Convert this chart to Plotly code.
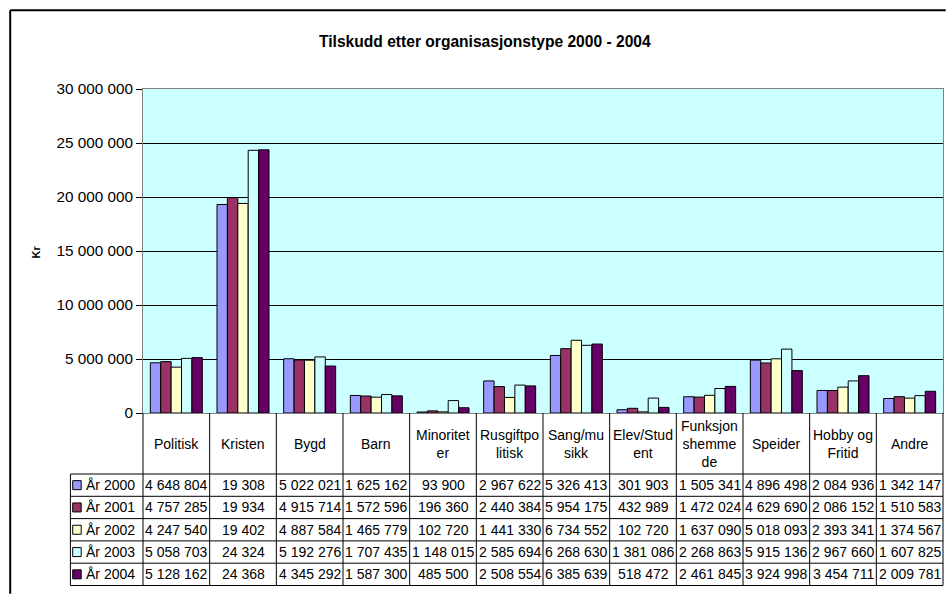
import plotly.graph_objects as go

# Tilskudd per organisasjonstype, kr
categories = ['Politisk', 'Kristen', 'Bygd', 'Barn', 'Minoritet<br>er', 'Rusgiftpo<br>litisk',
              'Sang/mu<br>sikk', 'Elev/Stud<br>ent', 'Funksjon<br>shemme<br>de', 'Speider',
              'Hobby og<br>Fritid', 'Andre']
years = ['År 2000', 'År 2001', 'År 2002', 'År 2003', 'År 2004']
y2000 = [4648804, 19308000, 5022021, 1625162, 93900, 2967622, 5326413, 301903, 1505341, 4896498, 2084936, 1342147]
y2001 = [4757285, 19934000, 4915714, 1572596, 196360, 2440384, 5954175, 432989, 1472024, 4629690, 2086152, 1510583]
y2002 = [4247540, 19402000, 4887584, 1465779, 102720, 1441330, 6734552, 102720, 1637090, 5018093, 2393341, 1374567]
y2003 = [5058703, 24324000, 5192276, 1707435, 1148015, 2585694, 6268630, 1381086, 2268863, 5915136, 2967660, 1607825]
y2004 = [5128162, 24368000, 4345292, 1587300, 485500, 2508554, 6385639, 518472, 2461845, 3924998, 3454711, 2009781]
series = [y2000, y2001, y2002, y2003, y2004]
colors = ['#9999FF', '#993366', '#FFFFCC', '#CCFFFF', '#660066']

W, H = 946, 594
L, R, T, B = 143.3, 943.3, 89.3, 413.3

def px(x):
    return (x - L) / (R - L)

def py(y):
    return (B - y) / (B - T)

def fmt(v, cat):
    # table shows Kristen in thousands
    if cat == 'Kristen':
        v = v // 1000
    return f'{v:,}'.replace(',', ' ')

fig = go.Figure()
for name, vals, col in zip(years, series, colors):
    fig.add_trace(go.Bar(x=list(range(len(categories))), y=vals, name=name,
                         marker=dict(color=col, line=dict(color='black', width=1))))

font = 'Arial, Liberation Sans, sans-serif'
shapes = []
annotations = []

# outer chart frame
shapes.append(dict(type='line', xref='paper', yref='paper', x0=px(10.5), x1=px(W), y0=py(10.5), y1=py(10.5),
                   line=dict(color='black', width=2)))
shapes.append(dict(type='line', xref='paper', yref='paper', x0=px(10.5), x1=px(10.5), y0=py(10.5), y1=py(H),
                   line=dict(color='black', width=2)))

# data table grid
slot = (R - L) / len(categories)
row_top = 474.3
row_h = 22.3
for i in range(len(categories) + 1):
    x = L + i * slot
    shapes.append(dict(type='line', xref='paper', yref='paper', x0=px(x), x1=px(x), y0=py(B), y1=py(row_top + 5 * row_h),
                       line=dict(color='black', width=1)))
for j in range(6):
    y = row_top + j * row_h
    shapes.append(dict(type='line', xref='paper', yref='paper', x0=px(70.7), x1=px(R), y0=py(y), y1=py(y),
                       line=dict(color='black', width=1)))
shapes.append(dict(type='line', xref='paper', yref='paper', x0=px(70.7), x1=px(70.7), y0=py(row_top), y1=py(row_top + 5 * row_h),
                   line=dict(color='black', width=1)))

for i, cat in enumerate(categories):
    cx = L + (i + 0.5) * slot
    annotations.append(dict(xref='paper', yref='paper', x=px(cx), y=py((B + row_top) / 2), text=cat, showarrow=False,
                            xanchor='center', yanchor='middle', font=dict(family=font, size=14, color='black')))

for j, (name, vals, col) in enumerate(zip(years, series, colors)):
    cy = row_top + (j + 0.5) * row_h
    shapes.append(dict(type='rect', xref='paper', yref='paper', x0=px(73), x1=px(81.5), y0=py(cy - 4.5), y1=py(cy + 4.5),
                       fillcolor=col, line=dict(color='black', width=1)))
    annotations.append(dict(xref='paper', yref='paper', x=px(84), y=py(cy), text=name, showarrow=False,
                            xanchor='left', yanchor='middle', font=dict(family=font, size=14, color='black')))
    for i, cat in enumerate(categories):
        cx = L + (i + 0.5) * slot
        annotations.append(dict(xref='paper', yref='paper', x=px(cx), y=py(cy), text=fmt(vals[i], cat), showarrow=False,
                                xanchor='center', yanchor='middle', font=dict(family=font, size=14, color='black')))

# title and axis label
annotations.append(dict(xref='paper', yref='paper', x=px(485), y=py(42), text='<b>Tilskudd etter organisasjonstype 2000 - 2004</b>',
                        showarrow=False, xanchor='center', yanchor='middle', font=dict(family=font, size=15.6, color='black')))
annotations.append(dict(xref='paper', yref='paper', x=px(36), y=py(252), text='<b>Kr</b>', textangle=-90,
                        showarrow=False, xanchor='center', yanchor='middle', font=dict(family=font, size=11, color='black')))

fig.update_layout(
    width=W, height=H,
    margin=dict(l=L, r=W - R, t=T, b=H - B, pad=0),
    paper_bgcolor='white',
    plot_bgcolor='#CCFFFF',
    barmode='group',
    bargap=0.22,
    bargroupgap=0,
    showlegend=False,
    separators=', ',
    font=dict(family=font, color='black'),
    shapes=shapes,
    annotations=annotations,
    xaxis=dict(range=[-0.5, len(categories) - 0.5], showticklabels=False, ticks='', showgrid=False,
               zeroline=False, showline=True, linecolor='#808080', linewidth=1, mirror=True),
    yaxis=dict(range=[0, 30000000], dtick=5000000, tickformat=',d', showgrid=True, gridcolor='black', gridwidth=1,
               zeroline=False, showline=True, linecolor='#808080', linewidth=1, mirror=True,
               ticks='outside', ticklen=6, tickcolor='black', tickfont=dict(family=font, size=15.3, color='black')),
)

# page margin off so the 946x594 figure fits the window exactly
fig.write_html("out.html", config={'displayModeBar': False},
               post_script="document.body.style.margin='0';document.body.style.overflow='hidden';")
